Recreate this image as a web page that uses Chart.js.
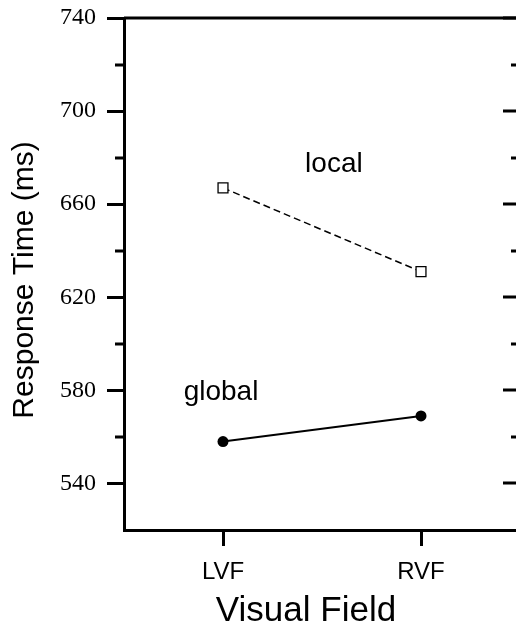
<!DOCTYPE html>
<html>
<head>
<meta charset="utf-8">
<script src="https://cdn.jsdelivr.net/npm/chart.js@4.4.0/dist/chart.umd.min.js"></script>
<style>
  html, body { margin: 0; padding: 0; background: #fff; overflow: hidden; }
  #wrap { width: 516px; height: 635px; overflow: hidden; }
</style>
</head>
<body>
<div id="wrap"><canvas id="grafico" width="530" height="635"></canvas></div>
<script>
const fields = ['LVF', 'RVF'];
const local = [667, 631];
const global = [558, 569];
const yMajor = [540, 580, 620, 660, 700, 740];
const yMinor = [560, 600, 640, 680, 720];

// where the two series names sit (data units)
const seriesNotes = [
    { text: 'local', x: 1.56, y: 674 },
    { text: 'global', x: 0.99, y: 576 }
];

const sans = '"Liberation Sans", Arial, sans-serif';
const serif = '"Liberation Serif", "Times New Roman", serif';

const extras = {
    id: 'extras',
    afterDraw(chart) {
        const c = chart.ctx;
        const a = chart.chartArea;
        const x = chart.scales.x;
        const y = chart.scales.y;
        c.save();
        c.strokeStyle = '#000';
        c.lineWidth = 3;
        // top frame line
        c.beginPath();
        c.moveTo(a.left, a.top);
        c.lineTo(a.right, a.top);
        c.stroke();
        // minor ticks left (outside) and all ticks right (inside)
        c.beginPath();
        yMinor.forEach(v => {
            const py = Math.round(y.getPixelForValue(v));
            c.moveTo(a.left - 9, py); c.lineTo(a.left, py);
            c.moveTo(a.right - 9, py); c.lineTo(a.right, py);
        });
        yMajor.forEach(v => {
            const py = Math.round(y.getPixelForValue(v));
            c.moveTo(a.right - 17, py); c.lineTo(a.right, py);
        });
        c.stroke();

        c.fillStyle = '#000';
        c.font = '28px ' + sans;
        c.textAlign = 'center';
        c.textBaseline = 'alphabetic';
        seriesNotes.forEach(n => {
            c.fillText(n.text, x.getPixelForValue(n.x), y.getPixelForValue(n.y));
        });

        // axis titles
        c.font = '35px ' + sans;
        c.fillText('Visual Field', 306, 621);
        c.translate(33, 280);
        c.rotate(-Math.PI / 2);
        c.font = '30px ' + sans;
        c.fillText('Response Time (ms)', 0, 0);
        c.restore();
    }
};

new Chart(document.getElementById('grafico'), {
    type: 'line',
    data: {
        datasets: [{
            label: 'local',
            data: fields.map((f, i) => ({ x: i + 1, y: local[i] })),
            borderColor: '#000',
            borderWidth: 1.5,
            borderDash: [7, 4],
            pointStyle: 'rect',
            pointRadius: 7,
            pointBackgroundColor: '#fff',
            pointBorderColor: '#000',
            pointBorderWidth: 1.3
        }, {
            label: 'global',
            data: fields.map((f, i) => ({ x: i + 1, y: global[i] })),
            borderColor: '#000',
            borderWidth: 2,
            pointStyle: 'circle',
            pointRadius: 5.5,
            pointBackgroundColor: '#000',
            pointBorderColor: '#000',
            pointBorderWidth: 0
        }]
    },
    options: {
        responsive: false,
        animation: false,
        devicePixelRatio: 1,
        layout: { padding: { left: 0, top: 18, right: 10, bottom: 0 } },
        plugins: {
            legend: { display: false },
            tooltip: { enabled: false }
        },
        scales: {
            x: {
                type: 'linear',
                min: 0.5,
                max: 2.5,
                afterBuildTicks: s => { s.ticks = fields.map((f, i) => ({ value: i + 1 })); },
                afterFit: s => { s.height = 105; s.paddingLeft = 0; s.paddingRight = 0; },
                ticks: {
                    callback: v => fields[v - 1],
                    color: '#000',
                    font: { family: sans, size: 24 },
                    padding: 12,
                    maxRotation: 0
                },
                grid: { drawOnChartArea: false, tickLength: 16, tickWidth: 3, tickColor: '#000' },
                border: { color: '#000', width: 3 }
            },
            y: {
                min: 520,
                max: 740,
                afterBuildTicks: s => { s.ticks = yMajor.map(v => ({ value: v })); },
                afterFit: s => { s.width = 124; s.paddingTop = 0; s.paddingBottom = 0; },
                ticks: {
                    color: '#000',
                    font: { family: serif, size: 24 },
                    padding: 11
                },
                grid: { drawOnChartArea: false, tickLength: 17, tickWidth: 3, tickColor: '#000' },
                border: { color: '#000', width: 3 }
            }
        }
    },
    plugins: [extras]
});
</script>
</body>
</html>
